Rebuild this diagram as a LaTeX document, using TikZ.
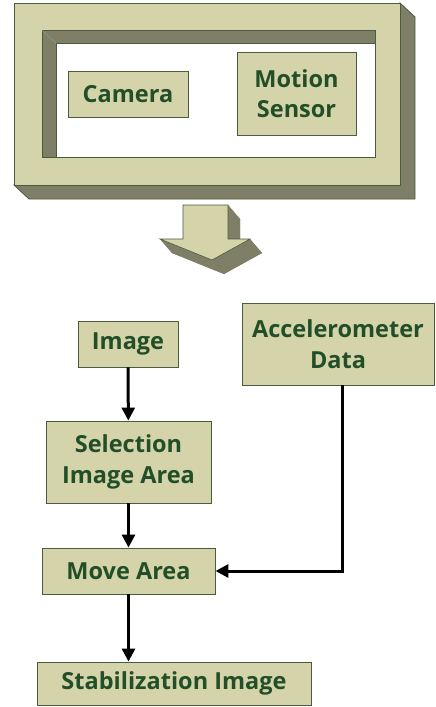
\documentclass[tikz,border=0pt]{standalone}
\usepackage{xcolor}
\usepackage{fontspec}
\setmainfont{Open Sans}
\usepackage{tikz}
\usetikzlibrary{arrows.meta, positioning, calc}

\definecolor{facekhaki}{RGB}{213,211,170}
\definecolor{sidekhaki}{RGB}{126,127,102}
\definecolor{edgegreen}{RGB}{72,92,62}
\definecolor{textgreen}{RGB}{34,78,40}

\begin{document}
\begin{tikzpicture}[x=1pt, y=-1pt,
  box/.style={draw=edgegreen, line width=0.9pt, fill=facekhaki,
    font=\fontsize{23.5}{30.5}\selectfont\bfseries, text=textgreen,
    align=center, inner sep=0pt},
  link/.style={line width=3pt, -{Triangle[length=13pt, width=13pt]}}]

  \useasboundingbox (0,0) rectangle (436,707);

  % --- 3D frame round the device ----
  \filldraw[fill=sidekhaki, draw=edgegreen, line width=0.8pt]
    (400,3) -- (415,17) -- (415,199) -- (29,199) -- (14,185) -- (400,185) -- cycle;
  \filldraw[fill=facekhaki, draw=edgegreen, line width=0.8pt, even odd rule]
    (14,3) rectangle (400,185) (42,30) rectangle (375,157);
  % inner bevel
  \filldraw[fill=sidekhaki, draw=edgegreen, line width=0.8pt]
    (42,30) -- (375,30) -- (375,43) -- (56,43) -- (56,157) -- (42,157) -- cycle;
  \draw[edgegreen!60] (42,30) -- (56,43);
  \fill[white] (56.5,43.5) rectangle (374.5,156.5);

  \node[box, minimum width=120, minimum height=46] (camera) at (128,94) {Camera};
  \node[box, minimum width=119, minimum height=83] (motion) at (296.5,93.5) {Motion\\Sensor};

  % --- Block arrow ----
  \begin{scope}[shift={(12,14)}]
    \fill[sidekhaki] (183,205) -- (228,205) -- (228,239) -- (250,239)
      -- (212,260) -- (160,239) -- (183,239) -- cycle;
  \end{scope}
  \foreach \xa/\ya/\xb/\yb in {183/205/228/205, 228/205/228/239, 228/239/250/239,
      250/239/212/260, 212/260/160/239, 160/239/183/239, 183/239/183/205}
    \fill[sidekhaki] (\xa,\ya) -- (\xb,\yb) -- (\xb+12,\yb+14) -- (\xa+12,\ya+14) -- cycle;
  \filldraw[fill=facekhaki, draw=edgegreen, line width=0.6pt]
    (183,205) -- (228,205) -- (228,239) -- (250,239)
    -- (212,260) -- (160,239) -- (183,239) -- cycle;

  % --- Flow ----
  \node[box, minimum width=100, minimum height=46] (image) at (128,344) {Image};
  \node[box, minimum width=192, minimum height=82] (accel) at (338,344) {Accelerometer\\Data};
  \node[box, minimum width=165, minimum height=82] (select) at (128.5,462) {Selection\\Image Area};
  \node[box, minimum width=173, minimum height=46] (move) at (128.5,571) {Move Area};
  \node[box, minimum width=274, minimum height=43] (stab) at (174,683.5) {Stabilization Image};

  \draw[link] (image) -- (select);
  \draw[link] (select) -- (move);
  \draw[link] (move.south) -- (move.south |- stab.north);
  \draw[link] ([xshift=4]accel.south) |- (move.east);
\end{tikzpicture}
\end{document}
